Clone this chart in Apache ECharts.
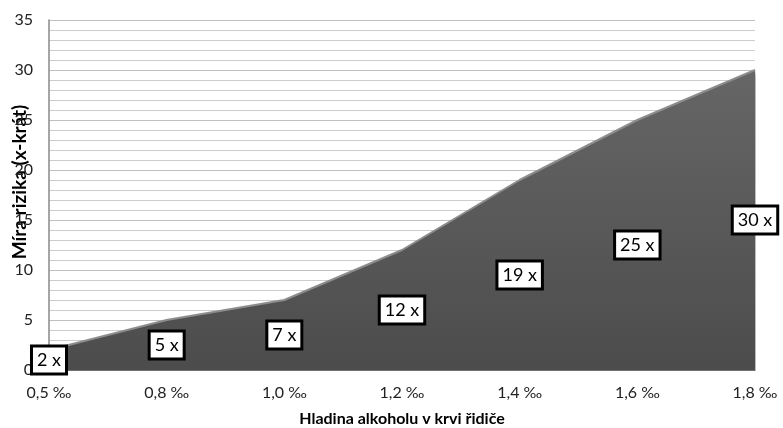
<!DOCTYPE html>
<html>
<head>
<meta charset="utf-8">
<script src="https://cdn.jsdelivr.net/npm/echarts@6/dist/echarts.min.js"></script>
<style>
html,body{margin:0;padding:0;background:#fff;}
#chart{width:783px;height:428px;}
</style>
</head>
<body>
<div id="chart"></div>
<script>
const categories = ['0,5 ‰', '0,8 ‰', '1,0 ‰', '1,2 ‰', '1,4 ‰', '1,6 ‰', '1,8 ‰'];
const riskValues = [2, 5, 7, 12, 19, 25, 30];
const xAxisName = 'Hladina alkoholu v krvi řidiče';
const yAxisName = 'Míra rizika (x-krát)';

const FONT = 'Lato, "Open Sans", sans-serif';
const chart = echarts.init(document.getElementById('chart'));
chart.setOption({
  animation: false,
  backgroundColor: '#fff',
  grid: { left: 49, right: 28, top: 20, bottom: 58, containLabel: false, outerBoundsMode: 'none' },
  xAxis: {
    type: 'category',
    data: categories,
    boundaryGap: false,
    name: xAxisName,
    nameLocation: 'middle',
    nameGap: 41,
    nameMoveOverlap: false,
    nameTextStyle: { fontFamily: FONT, fontWeight: 'bold', fontSize: 16, color: '#000' },
    axisLine: { lineStyle: { color: '#999', width: 1 } },
    axisTick: { show: false },
    axisLabel: { fontFamily: FONT, fontSize: 16, color: '#222', margin: 15 },
    splitLine: { show: false }
  },
  yAxis: {
    type: 'value',
    min: 0, max: 35, interval: 5,
    name: yAxisName,
    nameLocation: 'middle',
    nameGap: 20,
    nameMoveOverlap: false,
    nameTextStyle: { fontFamily: FONT, fontWeight: 'bold', fontSize: 19, color: '#000', padding: [0, 0, 0, 26] },
    axisLine: { show: true, lineStyle: { color: '#888', width: 1.5 } },
    axisTick: { show: false },
    axisLabel: { fontFamily: FONT, fontSize: 16, color: '#222', margin: 16 },
    splitLine: { show: true, lineStyle: { color: '#c0c0c0', width: 1 } },
    minorTick: { show: false, splitNumber: 5 },
    minorSplitLine: { show: true, lineStyle: { color: '#cdcdcd', width: 1 } }
  },
  series: [
    {
      type: 'line',
      data: riskValues,
      symbol: 'none',
      z: 2,
      lineStyle: { color: '#8c8c8c', width: 2 },
      areaStyle: {
        opacity: 1,
        color: new echarts.graphic.LinearGradient(0, 0, 0, 1, [
          { offset: 0, color: '#666666' },
          { offset: 1, color: '#4c4c4c' }
        ]),
        shadowColor: 'rgba(0,0,0,0.35)',
        shadowBlur: 4,
        shadowOffsetX: 2,
        shadowOffsetY: 2
      }
    },
    {
      type: 'scatter',
      data: riskValues.map(v => v / 2),
      symbolSize: 0,
      z: 5,
      silent: true,
      itemStyle: { opacity: 1 },
      label: {
        show: true,
        position: 'inside',
        opacity: 1,
        formatter: p => riskValues[p.dataIndex] + ' x',
        fontFamily: FONT,
        fontSize: 18,
        color: '#000',
        backgroundColor: '#ffffff',
        borderColor: '#000',
        borderWidth: 3,
        padding: [4, 4, 3, 4]
      }
    }
  ]
});
</script>
</body>
</html>
